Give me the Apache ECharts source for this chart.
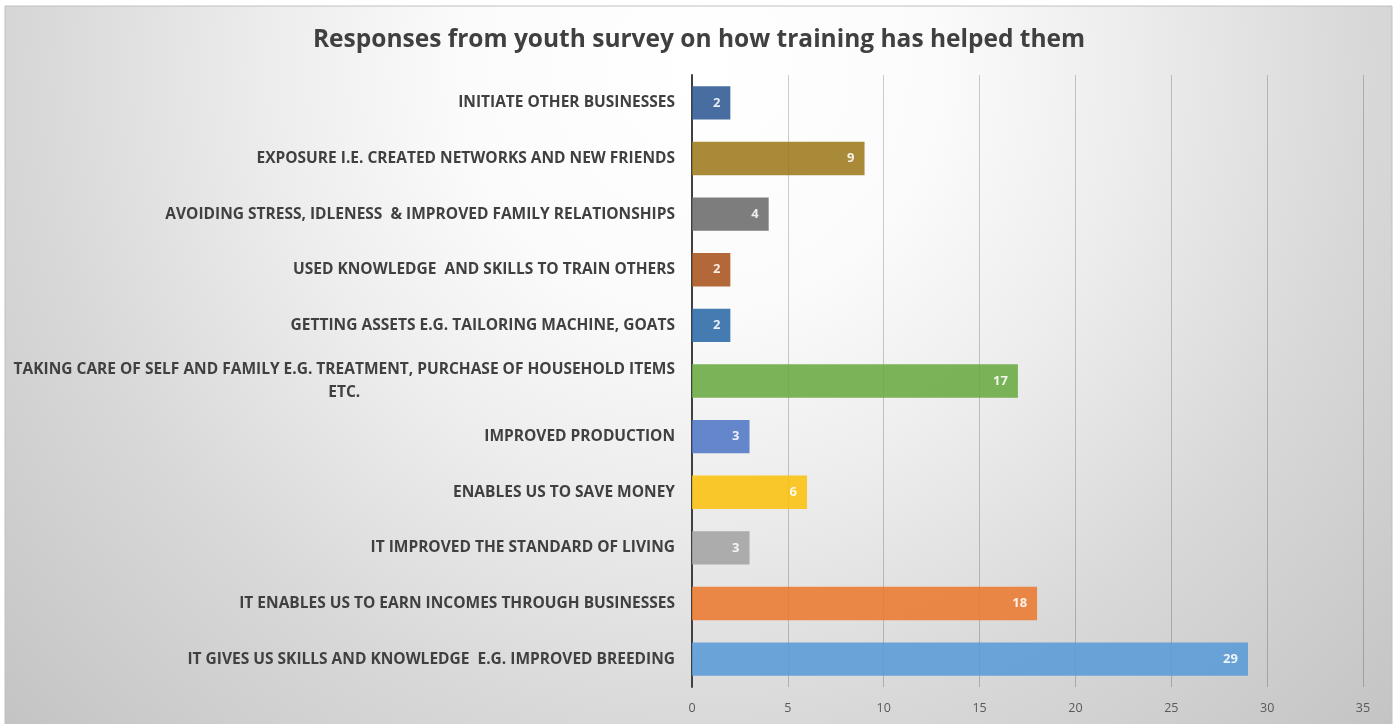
<!DOCTYPE html>
<html>
<head>
<meta charset="utf-8">
<script src="https://cdn.jsdelivr.net/npm/echarts@6/dist/echarts.min.js"></script>
<style>
html,body{margin:0;padding:0;background:#fff;}
#c{width:1398px;height:724px;}
</style>
</head>
<body>
<div id="c"></div>
<script>
const titleText = 'Responses from youth survey on how training has helped them';
const categories = [
  'INITIATE OTHER BUSINESSES',
  'EXPOSURE I.E. CREATED NETWORKS AND NEW FRIENDS',
  'AVOIDING STRESS, IDLENESS  & IMPROVED FAMILY RELATIONSHIPS',
  'USED KNOWLEDGE  AND SKILLS TO TRAIN OTHERS',
  'GETTING ASSETS E.G. TAILORING MACHINE, GOATS',
  'TAKING CARE OF SELF AND FAMILY E.G. TREATMENT, PURCHASE OF HOUSEHOLD ITEMS\nETC.',
  'IMPROVED PRODUCTION',
  'ENABLES US TO SAVE MONEY',
  'IT IMPROVED THE STANDARD OF LIVING',
  'IT ENABLES US TO EARN INCOMES THROUGH BUSINESSES',
  'IT GIVES US SKILLS AND KNOWLEDGE  E.G. IMPROVED BREEDING'
];
const values = [2, 9, 4, 2, 2, 17, 3, 6, 3, 18, 29];
const barColors = ['#2f5a94','#9c7a1c','#6b6b6b','#a8531e','#2a6aa6','#6aaa42','#4f77c4','#fbc10f','#a3a3a3','#ec7a30','#5a9bd6'];
const xTicks = [0, 5, 10, 15, 20, 25, 30, 35];

const chart = echarts.init(document.getElementById('c'), null, {renderer: 'canvas'});
const bg = new echarts.graphic.RadialGradient(700, 70, 950, [
  {offset: 0, color: '#ffffff'},
  {offset: 0.25, color: '#fbfbfb'},
  {offset: 0.45, color: '#ededed'},
  {offset: 0.7, color: '#d8d8d8'},
  {offset: 1, color: '#c4c4c4'}
], true);
const option = {
  animation: false,
  backgroundColor: '#ffffff',
  graphic: [{
    type: 'rect',
    z: -10,
    silent: true,
    shape: {x: 5, y: 6, width: 1387, height: 720},
    style: {
      fill: bg,
      stroke: '#c0c0c0',
      lineWidth: 1
    }
  }],
  title: {
    text: titleText,
    left: 'center',
    top: 23,
    textStyle: {
      fontFamily: 'Open Sans',
      fontWeight: 'bold',
      fontSize: 24.5,
      color: '#404040'
    }
  },
  grid: {
    left: 692,
    right: 35,
    top: 75,
    bottom: 37,
    containLabel: false
  },
  xAxis: {
    type: 'value',
    min: xTicks[0],
    max: xTicks[xTicks.length - 1],
    interval: 5,
    axisLine: {show: false},
    axisTick: {show: false},
    axisLabel: {
      color: '#595959',
      fontFamily: 'Open Sans',
      fontSize: 12.5,
      margin: 15
    },
    splitLine: {
      show: true,
      lineStyle: {color: 'rgba(0,0,0,0.2)', width: 1}
    }
  },
  yAxis: {
    type: 'category',
    inverse: true,
    data: categories,
    axisLine: {show: true, lineStyle: {color: '#404040', width: 2}},
    axisTick: {show: false},
    axisLabel: {
      margin: 17,
      color: '#404040',
      fontFamily: 'Open Sans',
      fontWeight: 'bold',
      fontSize: 15.5,
      lineHeight: 23,
      formatter: function (v) {
        return v.split('\n').map(function (s) { return '{c|' + s + '}'; }).join('\n');
      },
      rich: {
        c: {
          align: 'center',
          color: '#404040',
          fontFamily: 'Open Sans',
          fontWeight: 'bold',
          fontSize: 15.5,
          lineHeight: 23
        }
      }
    }
  },
  series: [{
    type: 'bar',
    barCategoryGap: '40%',
    data: values.map(function (v, i) {
      return {value: v, itemStyle: {color: barColors[i], opacity: 0.88}};
    }),
    label: {
      show: true,
      position: 'insideRight',
      distance: 10,
      color: '#ffffff',
      fontFamily: 'Open Sans',
      fontWeight: 'bold',
      fontSize: 13
    }
  }]
};
chart.setOption(option);
</script>
</body>
</html>
